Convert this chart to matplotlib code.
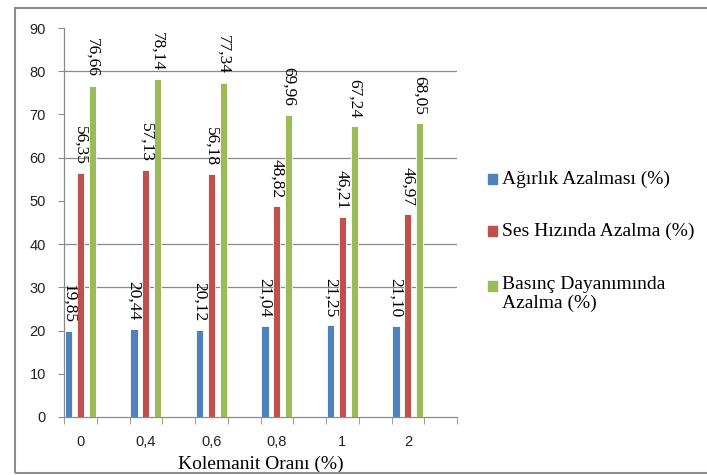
import matplotlib.pyplot as plt
import numpy as np
from matplotlib.patches import Rectangle

# Kolemanit oranına göre azalma değerleri (%)
categories = ['0', '0,4', '0,6', '0,8', '1', '2']
agirlik = [19.85, 20.44, 20.12, 21.04, 21.25, 21.10]
ses_hizi = [56.35, 57.13, 56.18, 48.82, 46.21, 46.97]
basinc = [76.66, 78.14, 77.34, 69.96, 67.24, 68.05]

series = [
    ('Ağırlık Azalması (%)', agirlik, '#4F81BD'),
    ('Ses Hızında Azalma (%)', ses_hizi, '#C0504D'),
    ('Basınç Dayanımında\nAzalma (%)', basinc, '#9BBB59'),
]

serif = 'Liberation Serif'
sans = 'Liberation Sans'
grid_color = '#8a8a8a'

fig = plt.figure(figsize=(7.07, 4.75), dpi=100)
ax = fig.add_axes([64 / 707, 1 - 417 / 475, (457 - 64) / 707, (417 - 28) / 475])

# each group sits in the left half of a two-unit slot
centers = np.arange(len(categories)) * 2 + 0.5
width = 0.22
offsets = [-0.36, 0.0, 0.36]

for (label, values, color), off in zip(series, offsets):
    x = centers + off
    ax.bar(x, values, width=width, color=color, edgecolor='white', linewidth=0.6, zorder=3)
    for xi, v in zip(x, values):
        ax.annotate(f'{v:.2f}'.replace('.', ','), (xi, v), xytext=(0, 6),
                    textcoords='offset points', rotation=270, ha='center', va='bottom',
                    fontsize=12.5, family=serif, zorder=4)

ax.set_xlim(0, 2 * len(categories))
ax.set_ylim(0, 90)
ax.set_yticks(np.arange(0, 91, 10))
for g in [30, 40, 60, 80]:
    ax.axhline(g, color=grid_color, linewidth=0.9, zorder=1)

ax.set_xticks(centers)
ax.set_xticklabels(categories, fontsize=10.5, family=sans, color='#222222')
ax.set_xticks(np.arange(0, 2 * len(categories) + 1), minor=True)
ax.tick_params(axis='x', which='major', length=0, pad=13)
ax.tick_params(axis='x', which='minor', length=5, color=grid_color, direction='out')
ax.tick_params(axis='y', length=4, color=grid_color, pad=9, labelsize=10.5, labelcolor='#222222')
for t in ax.get_yticklabels():
    t.set_family(sans)

for side in ['top', 'right']:
    ax.spines[side].set_visible(False)
for side in ['left', 'bottom']:
    ax.spines[side].set_color(grid_color)
    ax.spines[side].set_linewidth(0.9)

ax.set_xlabel('Kolemanit Oranı (%)', fontsize=14, family=serif, labelpad=5)

# legend on the right, marker next to the first line of each entry
legend_y = [179, 231, 286]
for (label, values, color), y in zip(series, legend_y):
    fig.patches.append(Rectangle((488 / 707, 1 - (y + 5) / 475), 9 / 707, 10 / 475,
                                 transform=fig.transFigure, color=color))
    fig.text(502 / 707, 1 - y / 475, label, fontsize=14, family=serif,
             ha='left', va='top' if '\n' in label else 'center',
             linespacing=1.1)
# keep the multi-line label's first line centred on its marker
fig.texts[-1].set_position((502 / 707, 1 - (286 - 10) / 475))

# outer chart border
fig.patches.append(Rectangle((15 / 707, 1 - 473 / 475), 700 / 707, (473 - 8) / 475,
                             transform=fig.transFigure, fill=False,
                             edgecolor='#8c8c8c', linewidth=1.5))

fig.savefig('out.png', dpi=100)
